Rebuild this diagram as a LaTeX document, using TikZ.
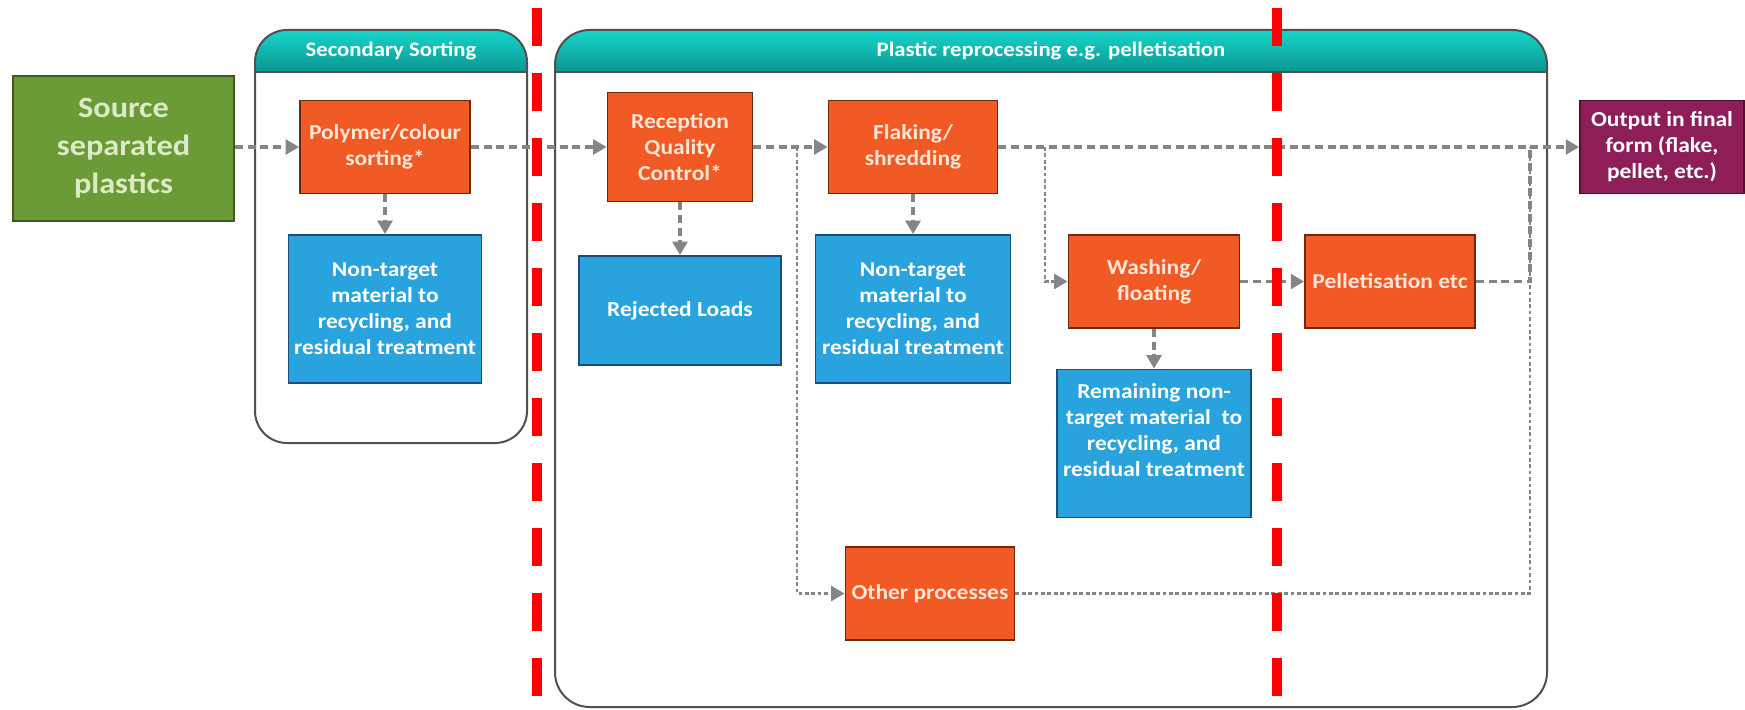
\documentclass[tikz,border=0pt]{standalone}
\usepackage{fontspec}
\setmainfont{Carlito}[FakeStretch=1.1]
\usetikzlibrary{arrows.meta}
\definecolor{srcgreen}{HTML}{6B9B37}
\definecolor{srcedge}{HTML}{3D5A1F}
\definecolor{srctext}{HTML}{DCEBC6}
\definecolor{procorange}{HTML}{F15A24}
\definecolor{procedge}{HTML}{6E2A10}
\definecolor{proctext}{HTML}{FDE6D8}
\definecolor{wasteblue}{HTML}{29A3DD}
\definecolor{wasteedge}{HTML}{1B4F78}
\definecolor{outpurple}{HTML}{8E1E58}
\definecolor{outedge}{HTML}{4E0F30}
\definecolor{frameedge}{HTML}{505050}
\definecolor{headtop}{HTML}{16D6CC}
\definecolor{headbot}{HTML}{0A968F}
\definecolor{flowgrey}{HTML}{858585}
\definecolor{cutred}{HTML}{FF0000}
\begin{document}
\begin{tikzpicture}[x=0.75pt, y=-0.75pt,
  every node/.style={inner sep=0pt, align=center},
  boxbase/.style={draw, line width=1.4pt, font=\fontsize{16pt}{19.5pt}\selectfont\bfseries},
  srcbox/.style={boxbase, fill=srcgreen, draw=srcedge, text=srctext, font=\fontsize{22pt}{28.5pt}\selectfont\bfseries},
  procbox/.style={boxbase, fill=procorange, draw=procedge, text=proctext},
  wastebox/.style={boxbase, fill=wasteblue, draw=wasteedge, text=white},
  outbox/.style={boxbase, fill=outpurple, draw=outedge, text=white},
  headtext/.style={text=white, font=\fontsize{15.5pt}{18pt}\selectfont\bfseries},
  frame/.style={draw=frameedge, line width=1.5pt},
  flow/.style={draw=flowgrey, line width=2.6pt, dash pattern=on 6pt off 3.5pt},
  finedots/.style={draw=flowgrey, line width=2.2pt, dash pattern=on 2.8pt off 2pt},
  tip/.style={-{Triangle[length=10pt,width=11pt]}},
  cut/.style={draw=cutred, line width=7.5pt, dash pattern=on 28.5pt off 20.25pt},
]
\useasboundingbox (0,0) rectangle (1745,710);
\fill[white] (0,0) rectangle (1745,710);

% ---- stage frames ----
\begin{scope}
  \clip[rounded corners=24pt] (255,30) rectangle (527,443);
  \shade[top color=headtop, bottom color=headbot] (255,30) rectangle (527,72);
\end{scope}
\draw[frame] (255,72) -- (527,72);
\draw[frame, rounded corners=24pt] (255,30) rectangle (527,443);
\node[headtext] (sechead) at (391,51) {Secondary Sorting};

\begin{scope}
  \clip[rounded corners=26pt] (555,30) rectangle (1547,707);
  \shade[top color=headtop, bottom color=headbot] (555,30) rectangle (1547,72);
\end{scope}
\draw[frame] (555,72) -- (1547,72);
\draw[frame, rounded corners=26pt] (555,30) rectangle (1547,707);
\node[headtext] (prochead) at (1051,51) {Plastic reprocessing e.g. pelletisation};

% ---- process boxes ----
\node[srcbox, minimum width=165.75pt, minimum height=108.75pt] (src) at (123.5,148.5) {Source\\separated\\plastics};
\node[procbox, minimum width=127.5pt, minimum height=69.75pt] (poly) at (385,147) {Polymer/colour\\sorting*};
\node[wastebox, minimum width=144.75pt, minimum height=111pt] (nt1) at (385,309) {Non-target\\material to\\recycling, and\\residual treatment};
\node[procbox, minimum width=108.75pt, minimum height=81.75pt] (rec) at (680,147) {Reception\\Quality\\Control*};
\node[wastebox, minimum width=151.5pt, minimum height=81.75pt] (rej) at (680,310.5) {Rejected Loads};
\node[procbox, minimum width=126.75pt, minimum height=69.75pt] (flak) at (913,147) {Flaking/\\shredding};
\node[wastebox, minimum width=146.25pt, minimum height=111pt] (nt2) at (913,309) {Non-target\\material to\\recycling, and\\residual treatment};
\node[procbox, minimum width=128.25pt, minimum height=69.75pt] (wash) at (1154,281.5) {Washing/\\floating};
\node[wastebox, minimum width=145.5pt, minimum height=111pt] (rem) at (1154,443.5) {Remaining non-\\target material~ to\\recycling, and\\residual treatment\\\mbox{}};
\node[procbox, minimum width=127.5pt, minimum height=69.75pt] (pel) at (1390,281.5) {Pelletisation etc};
\node[procbox, minimum width=126.75pt, minimum height=69.75pt] (other) at (930,593.5) {Other processes};
\node[outbox, minimum width=123pt, minimum height=69.75pt] (out) at (1662,147) {Output in final\\form (flake,\\pellet, etc.)};

% ---- junctions on the flow lines ----
\coordinate (split1) at (797,147);
\coordinate (split2) at (1045,147);
\coordinate (merge) at (1530,147);

% ---- connectors ----
\draw[flow, tip] (src.east |- poly.west) -- (poly.west);
\draw[flow, tip] (poly) -- (rec);
\draw[flow, tip] (rec) -- (flak);
\draw[flow, tip] (flak) -- (out);
\draw[finedots, tip] (split1) |- (other.west);
\draw[finedots, tip] (split2) |- (wash.west);
\draw[flow, tip] (wash) -- (pel);
\draw[flow] (pel.east) -| (merge);
\draw[finedots] (other.east) -| (merge);
\draw[flow, tip] (poly) -- (nt1);
\draw[flow, tip] (rec) -- (rej);
\draw[flow, tip] (flak) -- (nt2);
\draw[flow, tip] (wash) -- (rem);

% ---- boundary markers ----
\coordinate (cutAtop) at (537,8);
\coordinate (cutAbot) at (537,710);
\coordinate (cutBtop) at (1277,8);
\coordinate (cutBbot) at (1277,710);
\draw[cut] (cutAtop) -- (cutAbot);
\draw[cut] (cutBtop) -- (cutBbot);
\end{tikzpicture}
\end{document}
